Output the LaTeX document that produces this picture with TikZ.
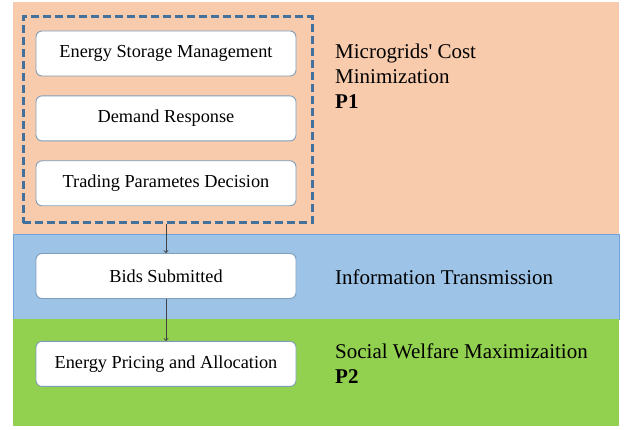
\documentclass[tikz,border=0pt]{standalone}
\usepackage{fontspec}
\setmainfont{Liberation Serif}
\usepackage{tikz}
\usetikzlibrary{positioning}
\definecolor{peach}{HTML}{F8CBAD}
\definecolor{skyband}{HTML}{9DC3E6}
\definecolor{skyedge}{HTML}{6FA3DA}
\definecolor{grassband}{HTML}{92D050}
\definecolor{dashblue}{HTML}{41719C}
\definecolor{boxedge}{HTML}{7F9DB9}
\tikzstyle{stage}=[rectangle, rounded corners=6pt, draw=boxedge, fill=white, line width=0.9pt, minimum width=260pt, minimum height=45pt, font=\fontsize{18.3}{22}\selectfont]
\tikzstyle{phase}=[anchor=west, align=left, inner sep=0pt, font=\fontsize{21}{25}\selectfont]
\tikzstyle{flow}=[->, line width=0.9pt, draw=black!75]
\tikzstyle{group}=[draw=dashblue, line width=3pt, dash pattern=on 8pt off 4pt]

\begin{document}
\begin{tikzpicture}[x=1pt, y=1pt]
                    \useasboundingbox (0,0) rectangle (629,430);
                    % bands
                    \fill[peach] (13,196) rectangle (619,428);
                    \filldraw[fill=skyband, draw=skyedge, line width=0.6pt] (13,111) rectangle (619,196);
                    \fill[grassband] (13,4) rectangle (619,110.7);
                    % P1 steps
                    \node[stage] (esm) at (166,376.5) {Energy Storage Management};
                    \node[stage, below=19pt of esm] (dr) {Demand Response};
                    \node[stage, below=19pt of dr] (tpd) {Trading Parametes Decision};
                    \node[group, minimum width=289pt, minimum height=206pt] (p1box) at (167.5,310) {};
                    % bids and P2
                    \node[stage] (bids) at (166,154) {Bids Submitted};
                    \node[stage, below=42pt of bids] (pricing) {Energy Pricing and Allocation};
                    \draw[flow] (bids.north |- p1box.south) -- (bids.north);
                    \draw[flow] (bids) -- (pricing);
                    % band titles
                    \node[phase] (p1text) at (335,354) {Microgrids\textquotesingle\ Cost\\Minimization\\\textbf{P1}};
                    \node[phase] (ittext) at (335,153) {Information Transmission};
                    \node[phase] (p2text) at (335,66) {Social Welfare Maximizaition\\\textbf{P2}};
                \end{tikzpicture}
\end{document}
